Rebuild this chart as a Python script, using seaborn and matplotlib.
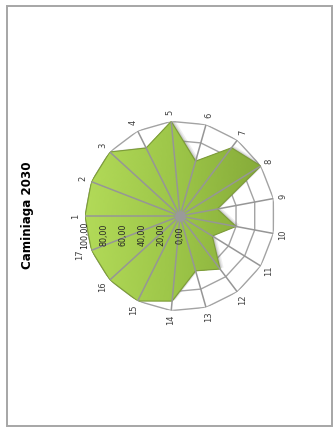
import numpy as np
import matplotlib
matplotlib.use("Agg")
import matplotlib.pyplot as plt
import matplotlib.transforms as mtransforms
from matplotlib.colors import LinearSegmentedColormap
from matplotlib.patches import Rectangle
import seaborn as sns

# Indicator scores for Caminiaga, horizon 2030
categories = ["1", "2", "3", "4", "5", "6", "7", "8", "9", "10",
              "11", "12", "13", "14", "15", "16", "17"]
scores = [100, 100, 100, 80, 100, 60, 90, 100, 40, 60,
          40, 70, 60, 90, 100, 100, 100]
ring_values = [20, 40, 60, 80, 100]
ring_labels = ["20,00", "40,00", "60,00", "80,00", "100,00"]
title = "Caminiaga 2030"

sns.set_theme(style="white")
plt.rcParams["font.family"] = ["DejaVu Sans"]

W, H = 334, 432
fig = plt.figure(figsize=(W / 100, H / 100), dpi=100)
fig.patch.set_facecolor("white")

# outer frame of the chart area
fig.patches.append(Rectangle((7 / W, 6 / H), 325 / W, 420 / H, transform=fig.transFigure,
                             fill=False, edgecolor="#a6a6a6", linewidth=1.4))

# polar area: centre (180, 216) px, radius 95 px
cx, cy, rad = 180, 216, 95
ax = fig.add_axes([(cx - rad) / W, 1 - (cy + rad) / H, 2 * rad / W, 2 * rad / H],
                  projection="polar")
ax.set_theta_offset(np.pi)
ax.set_theta_direction(-1)
ax.set_ylim(0, 100)
ax.grid(False)
ax.set_xticks([])
ax.set_yticks([])
ax.spines["polar"].set_visible(False)
ax.set_facecolor("none")

n = len(categories)
theta = np.arange(n) * 2 * np.pi / n
theta_c = np.append(theta, theta[0])
scores_c = np.append(scores, scores[0])

grid_col = "#a3a3a3"
# polygonal rings
for v in ring_values:
    ax.plot(theta_c, [v] * (n + 1), color=grid_col, lw=1.0, zorder=1)

# soft drop shadow of the area
for dx, dy, a in [(3.5, 1.5, 0.10), (2.2, 0.8, 0.15), (1.2, 0.4, 0.2)]:
    off = mtransforms.ScaledTranslation(dx / 100, dy / 100, fig.dpi_scale_trans)
    ax.fill(theta_c, scores_c, color="#606060", alpha=a, lw=0,
            transform=ax.transData + off, zorder=2)

# area with a left-to-right green gradient
poly = ax.fill(theta_c, scores_c, color="#98c044", lw=0, zorder=3)[0]
tt = np.linspace(0, 2 * np.pi, 181)
rr = np.linspace(0, 100, 41)
T, R = np.meshgrid(tt, rr)
xpos = -R * np.cos(T)  # screen x relative to centre (theta offset pi)
cmap = LinearSegmentedColormap.from_list("grn", ["#b2da58", "#9bc447", "#82a636"])
mesh = ax.pcolormesh(T, R, xpos[:-1, :-1], cmap=cmap, vmin=-100, vmax=100,
                     shading="flat", zorder=3.5, rasterized=True)
mesh.set_clip_path(poly)

# outline of the area
sns.lineplot(x=theta_c, y=scores_c, sort=False, estimator=None, ax=ax,
             color="#7d9c3a", lw=0.8, zorder=4)

# spokes
for t in theta:
    ax.plot([t, t], [0, 100], color="#969696", lw=1.1, zorder=5)
ax.scatter([0], [0], s=60, color="#9a9a9a", zorder=6, lw=0)

# category labels, set vertically
for t, lab in zip(theta, categories):
    r = 113 if lab == "17" else 110
    ax.text(t, r, lab, rotation=90, ha="center", va="center",
            fontsize=6, color="#404040", zorder=7)

# value-axis labels below the spoke of category 1
lab_off = mtransforms.offset_copy(ax.transData, fig=fig, x=0, y=-19, units="dots")
for v, lab in zip([0] + ring_values, ["0,00"] + ring_labels):
    ax.text(0, v, lab, rotation=90, ha="center", va="center", fontsize=5.8,
            color="#262626", transform=lab_off, zorder=7)

fig.text(27 / W, 1 - 215 / H, title, rotation=90, ha="center", va="center",
         fontsize=8.6, fontweight="bold", color="black")

fig.savefig("out.png", dpi=100, facecolor="white")
